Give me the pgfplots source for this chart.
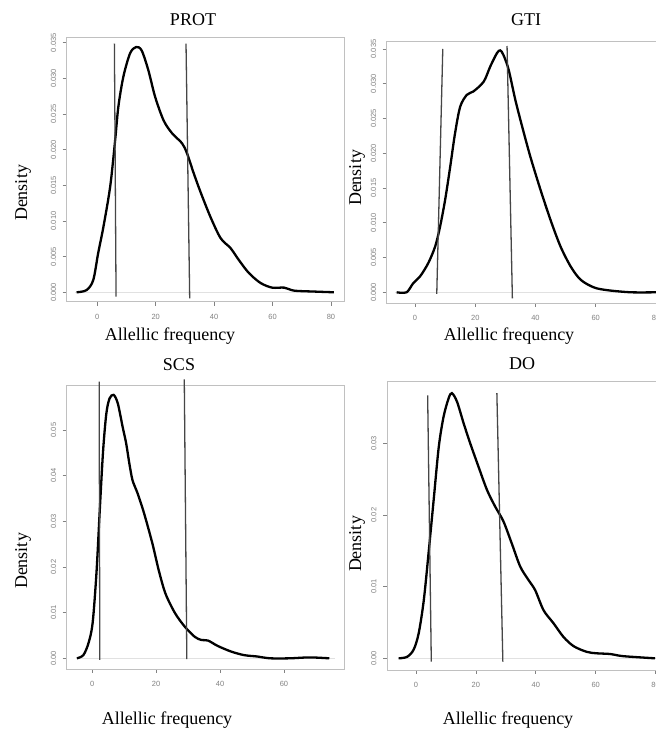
\documentclass[border=0pt]{standalone}
\usepackage{fontspec}
\setmainfont{Liberation Serif}
\newfontfamily\tickfont{Liberation Sans}
\usepackage{pgfplots}
\pgfplotsset{compat=1.18}
\definecolor{boxgray}{RGB}{192,192,192}
\definecolor{tickgray}{RGB}{130,130,130}
\definecolor{vline}{RGB}{70,70,70}
\definecolor{zerogray}{RGB}{225,225,225}
\pgfplotsset{
  rplot/.style={
    scale only axis, clip=false,
    axis line style={boxgray, line width=0.9pt},
    xtick pos=lower, ytick pos=left,
    tick align=outside, major tick length=4pt,
    tick style={tickgray, line width=0.7pt},
    scaled y ticks=false, scaled x ticks=false,
    /pgf/number format/assume math mode=true,
    ticklabel style={font=\tickfont\fontsize{7.5}{8}\selectfont, text=tickgray},
    xtick={0,20,40,60,80},
    xticklabel style={yshift=-5pt},
    yticklabel style={rotate=90, anchor=south, xshift=0pt, yshift=3pt},
  },
  curve/.style={black, line width=2.3pt, smooth, tension=0.5},
  vl/.style={vline, line width=1.3pt},
  zl/.style={zerogray, line width=0.8pt},
}
\begin{document}
\begin{tikzpicture}
\useasboundingbox (0,0) rectangle (656pt,731pt);
\clip (0,0) rectangle (656pt,731pt);
\fill[white] (0,0) rectangle (656pt,731pt);

% PROT
\begin{axis}[rplot, at={(66.7pt,429.3pt)}, anchor=south west,
  width=277.3pt, height=264.4pt,
  xmin=-10.48, xmax=84.46, ymin=-0.00132, ymax=0.03576,
  ytick={0,0.005,0.010,0.015,0.020,0.025,0.030,0.035},
  yticklabel style={/pgf/number format/.cd, fixed, fixed zerofill, precision=3}]
\addplot[zl] coordinates {(-7.5,0) (81,0)};
\addplot[curve] coordinates {
(-7.1,0) (-3.7,0.0003) (-1.4,0.0017) (0.3,0.0055) (2.1,0.0092) (4.4,0.0148)
(6.1,0.0213) (7.2,0.026) (8.9,0.0302) (11.2,0.0335) (13.3,0.0344) (15.2,0.0339)
(17.5,0.0311) (19.8,0.0274) (22.7,0.0241) (25.6,0.0223) (29,0.0209) (30.7,0.0195)
(33,0.0167) (35.3,0.0141) (38.7,0.0106) (42.2,0.0076) (45.6,0.0062) (48.5,0.0045)
(51.9,0.0027) (55.9,0.0013) (59.9,0.00065) (64,0.00065) (67.4,0.00023) (74.3,0.0001) (81,0)};
\addplot[vl] coordinates {(6.42,-0.00061) (5.85,0.03486)};
\addplot[vl] coordinates {(31.63,-0.00084) (30.37,0.03486)};
\end{axis}

% GTI
\begin{axis}[rplot, at={(386.7pt,428pt)}, anchor=south west,
  width=281.3pt, height=261.3pt,
  xmin=-9.4, xmax=84, ymin=-0.00154, ymax=0.03605,
  ytick={0,0.005,0.010,0.015,0.020,0.025,0.030,0.035},
  yticklabel style={/pgf/number format/.cd, fixed, fixed zerofill, precision=3}]
\addplot[zl] coordinates {(-6.5,0) (84,0)};
\addplot[curve] coordinates {
(-6.1,0) (-2.8,0) (-0.6,0.0013) (1.7,0.0023) (4.4,0.0042) (6.7,0.0066) (8.3,0.0094)
(10,0.0133) (11.7,0.0181) (13.3,0.0229) (15,0.0267) (17.2,0.0284) (19.4,0.0289)
(22.8,0.0303) (25,0.0325) (27.2,0.0344) (28.3,0.0348) (29.4,0.0341) (31.1,0.032)
(33.3,0.0277) (35.6,0.0238) (38.3,0.0195) (41.7,0.0147) (45,0.0104) (48.3,0.0066)
(51.7,0.0037) (55,0.0018) (59.4,0.0007) (63.9,0.0003) (71.7,0) (80,0)};
\addplot[vl] coordinates {(7.22,-0.00024) (9.22,0.035)};
\addplot[vl] coordinates {(32.33,-0.00086) (30.56,0.03543)};
\end{axis}

% SCS
\begin{axis}[rplot, at={(66.7pt,62pt)}, anchor=south west,
  width=277.6pt, height=284pt,
  xmin=-8.01, xmax=78.9, ymin=-0.00234, ymax=0.05986,
  xtick={0,20,40,60},
  ytick={0,0.01,0.02,0.03,0.04,0.05},
  yticklabel style={/pgf/number format/.cd, fixed, fixed zerofill, precision=2}]
\addplot[zl] coordinates {(-5,0) (76,0)};
\addplot[curve] coordinates {
(-4.8,0) (-2.8,0.0007) (-1.2,0.0033) (0.1,0.0077) (1.3,0.0186) (2.4,0.0332)
(3.4,0.0456) (4.4,0.0536) (5.4,0.0569) (6.7,0.0577) (8,0.0558) (9.5,0.0507)
(10.6,0.0471) (11.6,0.0427) (12.6,0.039) (14.2,0.0361) (16.2,0.0318) (18.8,0.0252)
(20.8,0.0193) (22.9,0.0142) (25.9,0.0099) (29,0.0069) (32.1,0.0047) (34.2,0.004)
(36.2,0.0039) (39.3,0.0027) (43.4,0.0015) (47.5,0.0007) (51.6,0.0004) (55.7,0)
(61.8,0) (68,0.0002) (74.2,0)};
\addplot[vl] coordinates {(2.36,-0.00036) (2.15,0.0606)};
\addplot[vl] coordinates {(29.6,-0.0002) (28.8,0.0611)};
\end{axis}

% DO
\begin{axis}[rplot, at={(387pt,61pt)}, anchor=south west,
  width=280.6pt, height=288.3pt,
  xmin=-9.68, xmax=84, ymin=-0.00163, ymax=0.0386,
  ytick={0,0.01,0.02,0.03},
  yticklabel style={/pgf/number format/.cd, fixed, fixed zerofill, precision=2}]
\addplot[zl] coordinates {(-6,0) (84,0)};
\addplot[curve] coordinates {
(-5.8,0) (-3,0.0002) (-0.8,0.0012) (0.9,0.0035) (2.6,0.0081) (4.2,0.0147)
(5.9,0.0221) (7.6,0.0295) (9.2,0.0337) (10.9,0.0363) (12,0.037) (13.7,0.0358)
(15.9,0.0328) (18.1,0.03) (20.9,0.0267) (23.7,0.0235) (26.4,0.0212) (29.2,0.0191)
(32,0.016) (34.8,0.0128) (37.6,0.0109) (39.8,0.0095) (42.6,0.0067) (45.9,0.0049)
(49.2,0.003) (52.6,0.0017) (57,0.0009) (60.3,0.0007) (64.8,0.0006) (69.2,0.0003) (79.8,0)};
\addplot[vl] coordinates {(5.11,-0.00047) (3.89,0.0367)};
\addplot[vl] coordinates {(29,-0.00047) (27,0.037)};
\end{axis}

% titles and labels
\begin{scope}[every node/.style={font=\fontsize{18}{20}\selectfont, inner sep=0pt}]
\node at (193pt,711pt) {PROT};
\node at (526pt,711pt) {GTI};
\node at (179pt,366pt) {SCS};
\node at (522pt,367.5pt) {DO};
\node[rotate=90] at (23pt,538pt) {Density};
\node[rotate=90] at (357pt,553pt) {Density};
\node[rotate=90] at (23pt,170pt) {Density};
\node[rotate=90] at (357pt,187pt) {Density};
\node at (170pt,395pt) {Allellic frequency};
\node at (509pt,395pt) {Allellic frequency};
\node at (167pt,11pt) {Allellic frequency};
\node at (508pt,11pt) {Allellic frequency};
\end{scope}
\end{tikzpicture}
\end{document}
